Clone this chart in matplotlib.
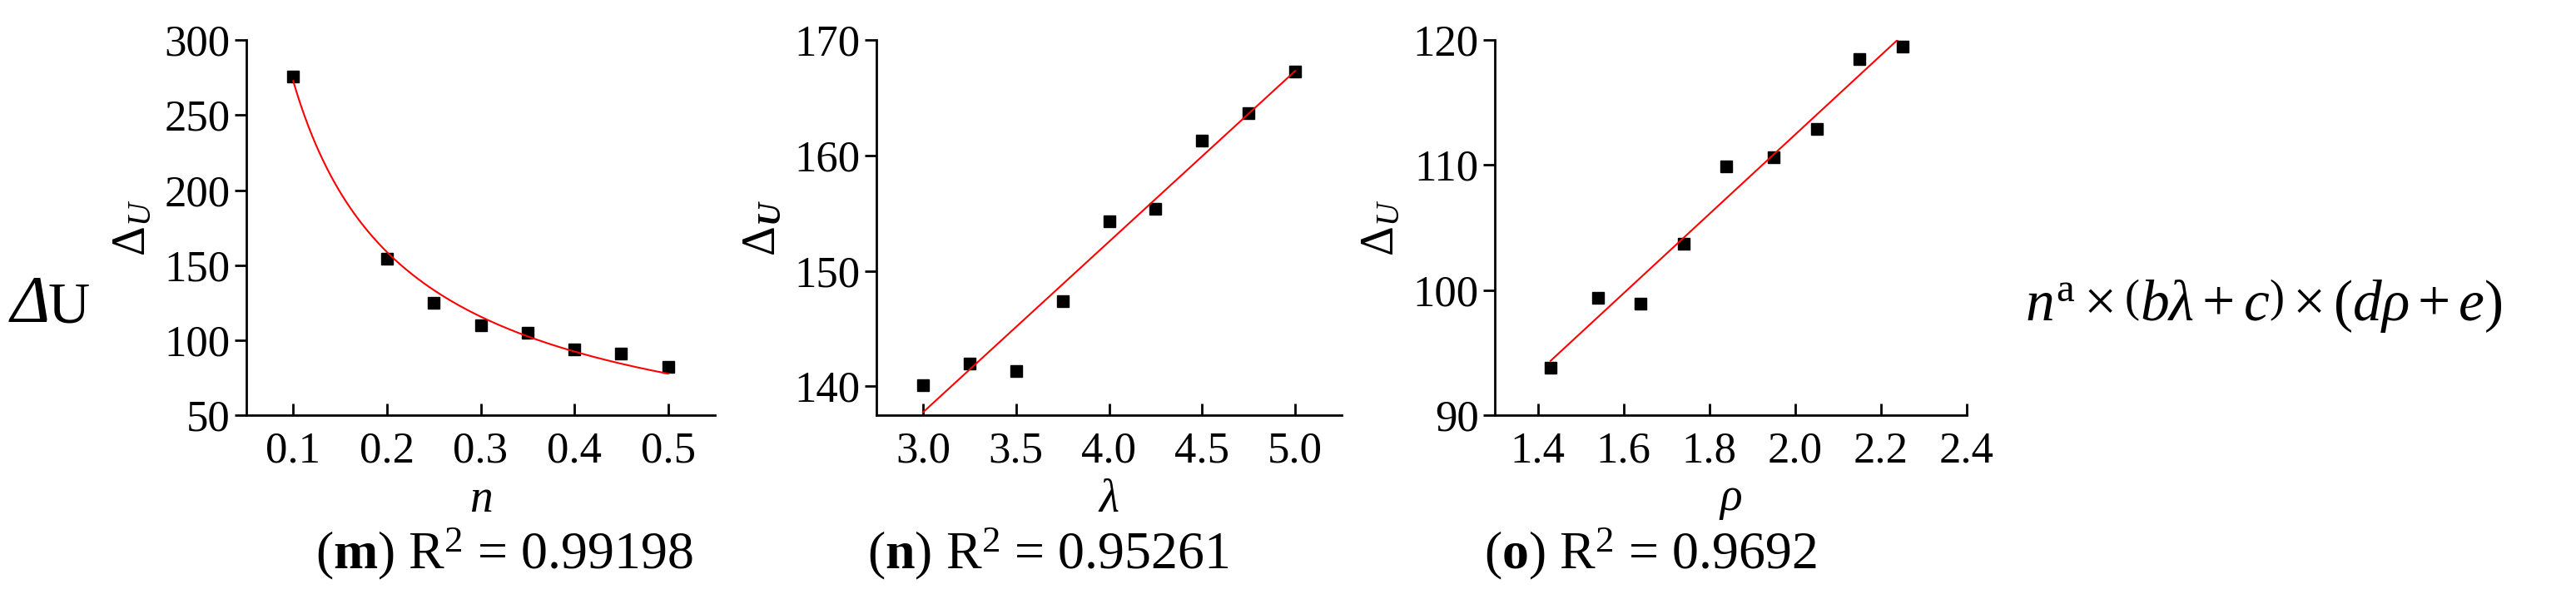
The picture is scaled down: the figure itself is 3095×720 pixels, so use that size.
import numpy as np
import matplotlib.pyplot as plt

plt.rcParams['font.family'] = ['Liberation Serif', 'DejaVu Serif']
plt.rcParams['mathtext.fontset'] = 'custom'
plt.rcParams['mathtext.rm'] = 'Liberation Serif'
plt.rcParams['mathtext.it'] = 'Liberation Serif:italic'
plt.rcParams['mathtext.bf'] = 'Liberation Serif:bold'
plt.rcParams['mathtext.bfit'] = 'Liberation Serif:bold:italic'

# panel (m)
n_vals = [0.1, 0.2, 0.25, 0.3, 0.35, 0.4, 0.45, 0.5]
du_m = [276, 154, 125, 110, 105, 94, 91, 82]
# panel (n)
lam_vals = [3.0, 3.25, 3.5, 3.75, 4.0, 4.25, 4.5, 4.75, 5.0]
du_n = [140.1, 142.0, 141.3, 147.4, 154.3, 155.4, 161.3, 163.7, 167.3]
# panel (o)
rho_vals = [1.43, 1.54, 1.64, 1.74, 1.84, 1.95, 2.05, 2.15, 2.25]
du_o = [93.8, 99.4, 98.9, 103.7, 109.9, 110.6, 112.9, 118.5, 119.5]

fig = plt.figure(figsize=(30.95, 7.2), dpi=100)
bottom, height = 0.307, 0.626
ax_m = fig.add_axes([296 / 3095, bottom, 563 / 3095, height])
ax_n = fig.add_axes([1053 / 3095, bottom, 559 / 3095, height])
ax_o = fig.add_axes([1796 / 3095, bottom, 567 / 3095, height])

tick_fs = 38
lab_fs = 40


def style(ax):
    for s in ["top", "right"]:
        ax.spines[s].set_visible(False)
    for s in ["left", "bottom"]:
        ax.spines[s].set_linewidth(2)
    ax.tick_params(axis="y", direction="out", length=10, width=2, labelsize=tick_fs, pad=4)
    ax.tick_params(axis="x", direction="in", length=10, width=2, labelsize=tick_fs, pad=14)


# (m) power fit
ax_m.plot(n_vals, du_m, "s", color="black", markersize=10)
b, loga = np.polyfit(np.log(n_vals), np.log(du_m), 1, w=np.array(du_m, dtype=float))
xs = np.linspace(n_vals[0], n_vals[-1], 200)
ax_m.plot(xs, np.exp(loga) * xs ** b, color="red", lw=1.5)
ax_m.set_xlim(0.05, 0.55)
ax_m.set_ylim(50, 300)
ax_m.set_xticks([0.1, 0.2, 0.3, 0.4, 0.5])
ax_m.set_yticks([50, 100, 150, 200, 250, 300])
ax_m.set_xlabel(r"$n$", fontsize=lab_fs, labelpad=6)
ax_m.set_ylabel(r"$\Delta_U$", fontsize=lab_fs, labelpad=8)
style(ax_m)

# (n) linear fit
ax_n.plot(lam_vals, du_n, "s", color="black", markersize=10)
k, c = np.polyfit(lam_vals, du_n, 1)
xl = np.array([lam_vals[0], lam_vals[-1]])
ax_n.plot(xl, k * xl + c, color="red", lw=1.5)
ax_n.set_xlim(2.75, 5.25)
ax_n.set_ylim(137.5, 170)
ax_n.set_xticks([3.0, 3.5, 4.0, 4.5, 5.0])
ax_n.set_xticklabels(["3.0", "3.5", "4.0", "4.5", "5.0"])
ax_n.set_yticks([140, 150, 160, 170])
ax_n.set_xlabel(r"$\lambda$", fontsize=lab_fs, labelpad=6)
ax_n.set_ylabel(r"$\Delta_\mathbfit{U}$", fontsize=lab_fs, labelpad=8)
style(ax_n)

# (o) linear fit
ax_o.plot(rho_vals, du_o, "s", color="black", markersize=10)
k, c = np.polyfit(rho_vals, du_o, 1)
xl = np.array([rho_vals[0], 2.24])
ax_o.plot(xl, k * xl + c, color="red", lw=1.5)
ax_o.set_xlim(1.30, 2.40)
ax_o.set_ylim(90, 120)
ax_o.set_xticks([1.4, 1.6, 1.8, 2.0, 2.2, 2.4])
ax_o.set_yticks([90, 100, 110, 120])
ax_o.set_xlabel(r"$\rho$", fontsize=lab_fs, labelpad=6)
ax_o.set_ylabel(r"$\Delta_U$", fontsize=lab_fs, labelpad=8)
style(ax_o)

cap_fs = 46
cap_y = 0.075
fig.text(ax_m.get_position().x0 + ax_m.get_position().width * 0.55, cap_y,
         r"($\mathbf{m}$) R$^{2}$ = 0.99198", fontsize=cap_fs, ha="center", va="center")
fig.text(ax_n.get_position().x0 + ax_n.get_position().width * 0.37, cap_y,
         r"($\mathbf{n}$) R$^{2}$ = 0.95261", fontsize=cap_fs, ha="center", va="center")
fig.text(ax_o.get_position().x0 + ax_o.get_position().width * 0.33, cap_y,
         r"($\mathbf{o}$) R$^{2}$ = 0.9692", fontsize=cap_fs, ha="center", va="center")

fig.text(0.004, 0.49, "Δ", fontsize=58, style="italic", ha="left", va="center")
fig.text(0.0185, 0.485, "U", fontsize=50, ha="left", va="center")
fig.text(0.786, 0.49, r"$n^{\mathrm{a}}\times\left(b\lambda+c\right)\times\left(d\rho+e\right)$",
         fontsize=50, ha="left", va="center")

fig.savefig("out.png", dpi=100, facecolor="white")
